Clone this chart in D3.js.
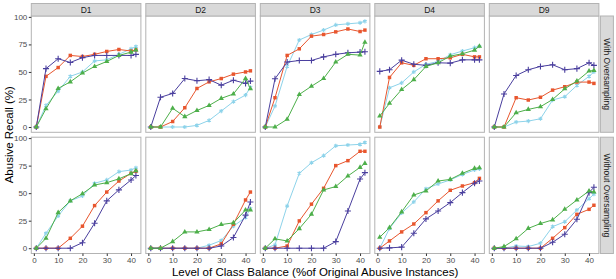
<!DOCTYPE html>
<html><head><meta charset="utf-8">
<script src="https://cdn.jsdelivr.net/npm/d3@7"></script>
<style>body{margin:0;background:#fff}svg{display:block;font-family:"Liberation Sans",Arial,sans-serif}</style>
</head><body><svg id="c" width="616" height="279"></svg>
<script>
const xVals = [1,5,10,15,20,25,30,35,40,42];
const datasets = ["D1","D2","D3","D4","D9"];
const rows = ["With Oversampling","Without Oversampling"];
const yTicks = [0,25,50,75,100];
const xTicks = [0,10,20,30,40];
const seriesNames = ["lightblue","red","purple","green"];
const seriesColors = ["#8dd3ea","#e8562e","#4a3f9e","#4daf4a"];
const seriesShapes = ["asterisk","square","plus","triangle"];

// With Oversampling
const withRed = {
  D1:[0,46,54,65,64,66,68.6,70.4,69,70],
  D2:[0,0,5,17.5,35,41,44,48,50,51],
  D3:[0,26.6,65,71,82.5,84,86.4,89,86.7,88],
  D4:[0,45,58.3,56,62,62,62.8,66,63.7,63.7],
  D9:[0,0,26.6,24.5,27,33.5,36.6,40.8,40.8,39.6]};
const withPurple = {
  D1:[0,53,62,58.6,63,65,65,65,65,66],
  D2:[0,27,30.5,44,42,43,38,42.5,39.6,41.7],
  D3:[0,43.8,59,60.4,60.4,63.7,66,67.4,68,68.3],
  D4:[50.5,52,60.7,57,56,58.3,58,61,61,61],
  D9:[0,30,46.8,52,55,56.5,52,53,58.3,56]};
const withLightBlue = {
  D1:[0,19.6,32.6,46,50,60,61,66,71,73],
  D2:[0,0,0,0,1.5,6,14.5,23,29,36],
  D3:[0,19,55,79,84,88,92.7,93.7,94.6,96],
  D4:[0,35.6,40,50,57,59.5,65.6,69,72,73.4],
  D9:[0,0,4.5,5.4,7.5,24.5,27.5,37.8,46,50]};
const withGreen = {
  D1:[0,16.6,35,41,49,55,59.5,65,68,70],
  D2:[0,0,17,9.4,15,19.6,26,30,44,34.7],
  D3:[0,0,7,29.6,37,44,59,66,65.3,77],
  D4:[10,21.5,34,43,55,58.3,64.4,66.5,69.8,73.4],
  D9:[0,0,13,16,18.4,25,34.7,41.7,50.8,51.4]};

// Without Oversampling
const woRed = {
  D1:[0,0,0,9,20,38.7,51,61,68,69.8],
  D2:[0,0,0,0,0,0,4,21.8,43.8,51],
  D3:[0,0,2,24.8,40,54.4,75,79.5,88,88],
  D4:[0,6.6,14.8,22,32.3,43,52.6,56.5,59.5,63.4],
  D9:[0,0,0,0,0,9,18.7,30.8,35.3,39]};
const woPurple = {
  D1:[0,0,0,0,5,22.7,43,53,62,66],
  D2:[0,0,0,0,0,0,2,9.7,30,42],
  D3:[0,0,0,0,0,0,6,33.8,62.8,68.6],
  D4:[0,0.3,1,13.6,26.6,33.8,41.4,50.5,59,61],
  D9:[0,0,0,0,0,5.4,12.7,26.3,50.5,55.3]};
const woLightBlue = {
  D1:[0,13.6,29.3,43,47.4,59,62,69.5,71,73],
  D2:[0,0,0,0,0,2.7,7,20,28,36],
  D3:[0,3,38.4,68,77.6,84,93,93.7,94.3,96],
  D4:[0,18,32,42,54,58.3,62,67,71,72],
  D9:[0,0,2,1.5,4.5,19.6,24,34.7,45,49]};
const woGreen = {
  D1:[0,9,32.3,43,49.5,57.4,59.5,63,67.7,70.4],
  D2:[0,0,6,14.8,14.8,17,21.5,23,34.7,34.7],
  D3:[0,8.5,6.6,17.8,30.8,52.9,56,65.6,73.4,77],
  D4:[10,18.7,33,48.3,52,61,62.5,68,72.5,73],
  D9:[0,1.5,8.5,18,22.4,25.7,35.3,43.8,52,51]};

const rowData = [
  [withLightBlue, withRed, withPurple, withGreen],
  [woLightBlue, woRed, woPurple, woGreen]];

const svg = d3.select("#c");
const panelLeft = 31.3, panelW = 109.6, gap = 4.9;
const panelTop = 16, panelH = 116.3;
const x = d3.scaleLinear().domain([-1.05, 44.05]);
const yDom = [-4.8, 100.8];

const shapeMap = {asterisk:d3.symbolAsterisk, square:d3.symbolSquare, plus:d3.symbolPlus, triangle:d3.symbolTriangle};
const shapeSize = {asterisk:12, square:12, plus:14, triangle:12};
const filled = {asterisk:false, square:true, plus:false, triangle:true};

rows.forEach((rowName, r) => {
  const top = panelTop + r*(panelH+gap);
  const y = d3.scaleLinear().domain(yDom).range([top+panelH, top]);
  datasets.forEach((ds, c) => {
    const left = panelLeft + c*(panelW+gap);
    const xs = x.copy().range([left, left+panelW]);
    const g = svg.append("g");
    g.append("rect").attr("x",left).attr("y",top).attr("width",panelW).attr("height",panelH).attr("fill","#fff");
    rowData[r].forEach((sd, si) => {
      const vals = sd[ds];
      const pts = xVals.map((xv,i)=>[xv, vals[i]]);
      const line = d3.line().x(d=>xs(d[0])).y(d=>y(d[1]));
      g.append("path").attr("d", line(pts)).attr("fill","none")
        .attr("stroke", seriesColors[si]).attr("stroke-width",1);
      const sh = seriesShapes[si];
      const sym = d3.symbol().type(shapeMap[sh]).size(shapeSize[sh]);
      g.selectAll(null).data(pts).join("path")
        .attr("transform", d=>`translate(${xs(d[0])},${y(d[1])})`)
        .attr("d", sym())
        .attr("fill", filled[sh] ? seriesColors[si] : "none")
        .attr("stroke", seriesColors[si])
        .attr("stroke-width", filled[sh] ? 0 : 1.1);
    });
    g.append("rect").attr("x",left).attr("y",top).attr("width",panelW).attr("height",panelH)
      .attr("fill","none").attr("stroke","#b3b3b3").attr("stroke-width",1);
    if (r===0) {
      svg.append("rect").attr("x",left).attr("y",3.5).attr("width",panelW).attr("height",panelTop-3.5)
        .attr("fill","#d9d9d9").attr("stroke","#b3b3b3").attr("stroke-width",1);
      svg.append("text").attr("x",left+panelW/2).attr("y",(3.5+panelTop)/2).attr("dy","0.35em")
        .attr("text-anchor","middle").attr("font-size",8.5).attr("fill","#1a1a1a").text(ds);
    }
    if (c===0) {
      const ax = d3.axisLeft(y).tickValues(yTicks).tickSize(2.5).tickPadding(1.5);
      const ag = svg.append("g").attr("transform",`translate(${left},0)`).call(ax);
      ag.select(".domain").remove();
      ag.selectAll("line").attr("stroke","#333");
      ag.selectAll("text").attr("font-size",8).attr("fill","#4d4d4d").attr("font-family","Liberation Sans, Arial, sans-serif");
    }
    if (r===1) {
      const ax = d3.axisBottom(xs).tickValues(xTicks).tickSize(2.5).tickPadding(1.5);
      const ag = svg.append("g").attr("transform",`translate(0,${top+panelH})`).call(ax);
      ag.select(".domain").remove();
      ag.selectAll("line").attr("stroke","#333");
      ag.selectAll("text").attr("font-size",8).attr("fill","#4d4d4d").attr("font-family","Liberation Sans, Arial, sans-serif");
    }
  });
  const sx = panelLeft + 5*panelW + 4*gap + 1.5;
  svg.append("rect").attr("x",sx).attr("y",top).attr("width",13).attr("height",panelH)
    .attr("fill","#d9d9d9").attr("stroke","#b3b3b3").attr("stroke-width",1);
  svg.append("text").attr("transform",`translate(${sx+6.5},${top+panelH/2}) rotate(90)`)
    .attr("dy","0.35em").attr("text-anchor","middle").attr("font-size",8.5).attr("fill","#1a1a1a").text(rowName);
});

const plotCenterX = panelLeft + (5*panelW+4*gap)/2;
svg.append("text").attr("x",plotCenterX).attr("y",272).attr("dy","0.35em").attr("text-anchor","middle")
  .attr("font-size",11.5).attr("fill","#000").text("Level of Class Balance (%of Original Abusive Instances)");
svg.append("text").attr("transform",`translate(9,${panelTop+(2*panelH+gap)/2}) rotate(-90)`)
  .attr("dy","0.35em").attr("text-anchor","middle").attr("font-size",11.5).attr("fill","#000").text("Abusive Recall (%)");
</script></body></html>
